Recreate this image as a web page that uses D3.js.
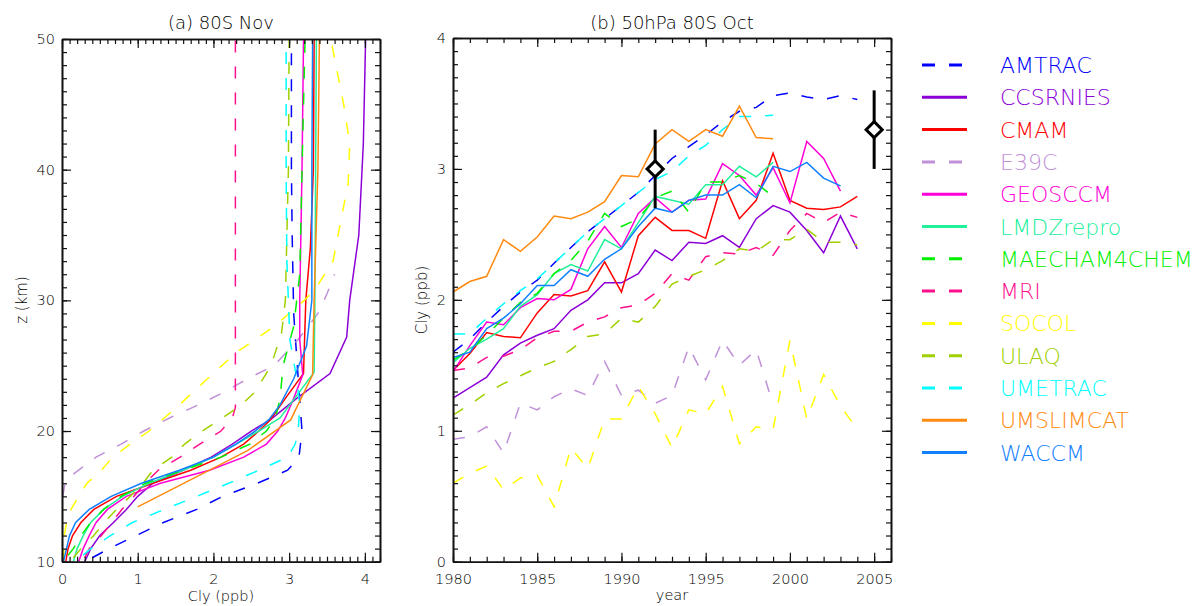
<!DOCTYPE html>
<html>
<head>
<meta charset="utf-8">
<script src="https://cdn.jsdelivr.net/npm/d3@7"></script>
<style>
  body { margin: 0; background: #fff; }
  svg { display: block; font-family: "DejaVu Sans", sans-serif; font-weight: 200; }
  .tick text { font-size: 14.5px; fill: #000; font-family: "DejaVu Sans", sans-serif; font-weight: 200; }
  .axis path, .axis line { stroke: #111; }
</style>
</head>
<body>
<div class="chart"></div>
<script>
const svgWidth = 1203
const svgHeight = 606

// ========================= DATA =========================
const models = ["AMTRAC", "CCSRNIES", "CMAM", "E39C", "GEOSCCM", "LMDZrepro", "MAECHAM4CHEM",
  "MRI", "SOCOL", "ULAQ", "UMETRAC", "UMSLIMCAT", "WACCM"]
const colors = ["#0000ff", "#8c00d8", "#ff0000", "#c090d8", "#ff00d8", "#20f09a", "#00f000",
  "#ff0f8c", "#ffff00", "#a0d000", "#00ffff", "#ff8a10", "#1080ff"]
const dashed = [true, false, false, true, false, false, true, true, true, true, true, false, false]

// (a) 80S Nov profiles: altitude (km) and Cly (ppb)
const amtracZ = [10.3, 11, 12, 13, 14, 15, 16, 17, 18, 20, 24, 29, 35, 40, 50]
const amtracNov = [0.4, 0.62, 0.98, 1.34, 1.78, 2.12, 2.58, 2.98, 3.13, 3.17, 3.12, 3.06, 3.04, 3.03, 3.03]
const ccsrniesZ = [10, 11, 12, 13, 14, 15, 16, 17, 18, 19, 20, 20.85, 22.5, 24.4, 27.2, 30, 35, 42, 50]
const ccsrniesNov = [0.3, 0.38, 0.5, 0.68, 0.85, 1.0, 1.2, 1.6, 1.97, 2.25, 2.5, 2.75, 3.1, 3.54, 3.76, 3.8, 3.92, 3.98, 4.01]
const cmamZ = [10, 11, 12, 13, 14, 15, 16, 17, 18, 19, 20, 20.85, 22.5, 24.4, 30, 34, 40, 50]
const cmamNov = [0.05, 0.08, 0.14, 0.25, 0.42, 0.72, 1.2, 1.7, 2.1, 2.4, 2.6, 2.75, 2.95, 3.19, 3.22, 3.28, 3.32, 3.33]
const e39cZ = [13, 14, 15, 16, 16.5, 17, 18, 19, 20, 21, 22, 23, 24, 25, 27, 29, 30.5, 32]
const e39cNov = [0, 0, 0.01, 0.04, 0.1, 0.22, 0.45, 0.78, 1.08, 1.42, 1.8, 2.15, 2.45, 2.8, 3.12, 3.38, 3.5, 3.6]
const geosccmZ = [10, 11, 12, 13, 14, 15, 16, 17, 18, 19, 20, 21, 22.5, 24.3, 27, 30, 40, 50]
const geosccmNov = [0.22, 0.28, 0.36, 0.45, 0.6, 0.85, 1.3, 1.95, 2.4, 2.7, 2.85, 2.95, 3.06, 3.18, 3.14, 3.14, 3.17, 3.19]
const lmdzZ = [10, 11, 12, 13, 14, 15, 16, 17, 18, 19, 20, 21, 22.4, 24.5, 30, 40, 50]
const lmdzNov = [0.15, 0.2, 0.28, 0.38, 0.55, 0.8, 1.15, 1.6, 2.0, 2.3, 2.6, 2.88, 3.06, 3.33, 3.34, 3.35, 3.36]
const maechamZ = [10.5, 11, 12, 13, 14, 15, 16, 17, 18, 19, 20, 21, 22.5, 25, 28, 32, 40, 50]
const maechamNov = [0.08, 0.15, 0.25, 0.38, 0.55, 0.78, 1.1, 1.6, 2.1, 2.48, 2.7, 2.82, 2.88, 2.92, 3.06, 3.14, 3.17, 3.21]
const mriZ = [10.3, 11, 12, 13, 14, 15, 16, 17, 18, 19, 20, 21, 21.8, 50]
const mriNov = [0.3, 0.36, 0.52, 0.66, 0.79, 0.95, 1.1, 1.27, 1.56, 1.82, 2.1, 2.25, 2.29, 2.29]
const socolZ = [10, 12, 13, 14, 15, 16, 17, 18, 19, 20, 21, 22, 24, 26, 28, 30, 31, 33, 36, 39, 42, 45, 50]
const socolNov = [0.02, 0.03, 0.06, 0.12, 0.22, 0.33, 0.52, 0.67, 0.9, 1.15, 1.35, 1.55, 1.92, 2.3, 2.8, 3.2, 3.36, 3.58, 3.68, 3.78, 3.8, 3.72, 3.55]
const ulaqZ = [10.3, 11, 12, 13, 14, 15, 16, 17, 18, 19, 20, 21, 22, 23, 25, 27.5, 30, 40, 50]
const ulaqNov = [0.15, 0.25, 0.42, 0.56, 0.72, 0.9, 1.07, 1.2, 1.45, 1.62, 1.85, 2.12, 2.37, 2.55, 2.76, 2.9, 2.95, 2.99, 3.0]
const umetracZ = [10.5, 11, 12, 13, 14, 15, 16, 17, 18, 19, 20, 22, 24, 27, 33, 40, 50]
const umetracNov = [0.28, 0.38, 0.64, 0.93, 1.35, 1.78, 2.2, 2.6, 2.98, 3.08, 3.12, 3.14, 3.1, 3.01, 2.97, 2.96, 2.96]
const umslimcatZ = [14.2, 18.5, 20.85, 24.3, 30, 40, 50]
const umslimcatNov = [1.0, 2.45, 3.02, 3.31, 3.33, 3.38, 3.4]
const waccmZ = [10, 11, 12, 13, 14, 15, 16, 17, 18, 19, 20, 20.85, 22, 24, 26.5, 30, 40, 50]
const waccmNov = [0.02, 0.06, 0.1, 0.18, 0.36, 0.65, 1.05, 1.55, 2.0, 2.3, 2.55, 2.73, 2.88, 3.06, 3.23, 3.3, 3.3, 3.31]

// (b) 50hPa 80S Oct Cly (ppb), every series starts in 1980
const years = [1980, 1981, 1982, 1983, 1984, 1985, 1986, 1987, 1988, 1989, 1990, 1991, 1992,
  1993, 1994, 1995, 1996, 1997, 1998, 1999, 2000, 2001, 2002, 2003, 2004, 2005]
const amtracOct = [1.60, 1.70, 1.83, 1.95, 2.06, 2.15, 2.28, 2.40, 2.52, 2.62, 2.72, 2.82, 2.95, 3.08, 3.17, 3.26, 3.36, 3.44, 3.47, 3.56, 3.58, 3.55, 3.53, 3.56, 3.53]
const ccsrniesOct = [1.25, 1.33, 1.41, 1.58, 1.67, 1.73, 1.78, 1.92, 2.0, 2.13, 2.13, 2.20, 2.38, 2.30, 2.44, 2.43, 2.49, 2.40, 2.62, 2.72, 2.67, 2.53, 2.36, 2.64, 2.39]
const cmamOct = [1.46, 1.59, 1.75, 1.72, 1.71, 1.90, 2.04, 2.03, 2.07, 2.29, 2.06, 2.49, 2.63, 2.53, 2.53, 2.47, 2.91, 2.62, 2.76, 3.12, 2.76, 2.70, 2.69, 2.71, 2.79]
const e39cOct = [0.935, 0.955, 1.03, 0.83, 1.21, 1.16, 1.26, 1.32, 1.27, 1.53, 1.27, 1.31, 1.21, 1.27, 1.64, 1.39, 1.69, 1.50, 1.62, 1.20]
const geosccmOct = [1.45, 1.65, 1.83, 1.81, 1.94, 2.01, 2.00, 2.08, 2.39, 2.56, 2.40, 2.66, 2.78, 2.67, 2.76, 2.77, 3.04, 2.95, 2.80, 3.01, 2.74, 3.21, 3.08, 2.83]
const lmdzOct = [1.52, 1.63, 1.70, 1.78, 1.95, 2.04, 2.20, 2.27, 2.22, 2.46, 2.39, 2.59, 2.79, 2.76, 2.73, 2.88, 2.88, 3.02, 2.94, 3.05]
const maechamOct = [1.54, 1.62, 1.73, 1.86, 1.98, 2.05, 2.20, 2.30, 2.45, 2.66, 2.56, 2.62, 2.78, 2.83, 2.67, 2.90, 2.90, 2.95, 2.89, 2.79]
const mriOct = [1.46, 1.48, 1.56, 1.57, 1.62, 1.71, 1.76, 1.76, 1.83, 1.87, 1.94, 1.96, 2.05, 2.20, 2.15, 2.33, 2.36, 2.35, 2.40, 2.34, 2.53, 2.66, 2.59, 2.67, 2.63]
const socolOct = [0.60, 0.675, 0.73, 0.55, 0.64, 0.66, 0.42, 0.87, 0.71, 1.09, 1.09, 1.34, 1.13, 0.87, 1.16, 1.13, 1.34, 0.90, 1.03, 1.01, 1.69, 1.09, 1.43, 1.19, 1.01]
const ulaqOct = [1.12, 1.20, 1.29, 1.36, 1.42, 1.48, 1.53, 1.62, 1.72, 1.74, 1.86, 1.83, 1.95, 2.12, 2.18, 2.23, 2.30, 2.39, 2.37, 2.46, 2.46, 2.54, 2.44, 2.44, 2.42]
const umetracOct = [1.74, 1.74, 1.86, 1.97, 2.07, 2.16, 2.28, 2.40, 2.52, 2.62, 2.72, 2.82, 2.92, 2.98, 3.10, 3.18, 3.30, 3.40, 3.40, 3.41]
const umslimcatOct = [2.06, 2.14, 2.18, 2.46, 2.37, 2.48, 2.64, 2.62, 2.67, 2.75, 2.95, 2.94, 3.19, 3.30, 3.21, 3.30, 3.25, 3.48, 3.24, 3.23]
const waccmOct = [1.56, 1.60, 1.78, 1.86, 1.97, 2.11, 2.11, 2.23, 2.18, 2.31, 2.39, 2.56, 2.70, 2.67, 2.76, 2.80, 2.80, 2.88, 2.78, 3.02, 2.98, 3.05, 2.93, 2.87]

// observations with error bars
const obsYears = [1992, 2005]
const obsCly = [3.0, 3.3]
const obsLow = [2.7, 3.0]
const obsHigh = [3.3, 3.6]

// tick labels
const clyTicksA = [0, 1, 2, 3, 4]
const zTicks = [10, 20, 30, 40, 50]
const yearTicks = [1980, 1985, 1990, 1995, 2000, 2005]
const clyTicksB = [0, 1, 2, 3, 4]

const profZ = [amtracZ, ccsrniesZ, cmamZ, e39cZ, geosccmZ, lmdzZ, maechamZ, mriZ, socolZ, ulaqZ, umetracZ, umslimcatZ, waccmZ]
const profCly = [amtracNov, ccsrniesNov, cmamNov, e39cNov, geosccmNov, lmdzNov, maechamNov, mriNov, socolNov, ulaqNov, umetracNov, umslimcatNov, waccmNov]
const octCly = [amtracOct, ccsrniesOct, cmamOct, e39cOct, geosccmOct, lmdzOct, maechamOct, mriOct, socolOct, ulaqOct, umetracOct, umslimcatOct, waccmOct]

// ========================= SETUP =========================
let svg = d3.select(".chart")
  .append("svg")
  .attr("width", svgWidth)
  .attr("height", svgHeight)

// panel boxes in page pixels
let boxA = { left: 62, right: 380, top: 39, bottom: 561.7 }
let boxB = { left: 453, right: 891, top: 38, bottom: 561.7 }

let xA = d3.scaleLinear().domain([0, 4.2]).range([boxA.left, boxA.right])
let yA = d3.scaleLinear().domain([10, 50]).range([boxA.bottom, boxA.top])
let xB = d3.scaleLinear().domain([1980, 2006]).range([boxB.left, boxB.right])
let yB = d3.scaleLinear().domain([0, 4]).range([boxB.bottom, boxB.top])

const dashPattern = "12,14"

// draws a framed box with inward ticks on all four sides
function drawFrame(box, x, y, xMajor, xMinor, yMajor, yMinor) {
  let g = svg.append("g").attr("class", "axis")
  let major = 9
  let minor = 5

  g.append("g").attr("transform", `translate(0, ${box.bottom})`)
    .call(d3.axisBottom(x).tickValues(xMinor).tickSize(-minor).tickSizeOuter(0).tickFormat(""))
  g.append("g").attr("transform", `translate(0, ${box.bottom})`)
    .call(d3.axisBottom(x).tickValues(xMajor).tickSize(-major).tickSizeOuter(0).tickPadding(12).tickFormat(d3.format("d")))
  g.append("g").attr("transform", `translate(0, ${box.top})`)
    .call(d3.axisTop(x).tickValues(xMinor).tickSize(-minor).tickSizeOuter(0).tickFormat(""))
  g.append("g").attr("transform", `translate(0, ${box.top})`)
    .call(d3.axisTop(x).tickValues(xMajor).tickSize(-major).tickSizeOuter(0).tickFormat(""))

  g.append("g").attr("transform", `translate(${box.left}, 0)`)
    .call(d3.axisLeft(y).tickValues(yMinor).tickSize(-minor).tickSizeOuter(0).tickFormat(""))
  g.append("g").attr("transform", `translate(${box.left}, 0)`)
    .call(d3.axisLeft(y).tickValues(yMajor).tickSize(-major).tickSizeOuter(0).tickPadding(7).tickFormat(d3.format("d")))
  g.append("g").attr("transform", `translate(${box.right}, 0)`)
    .call(d3.axisRight(y).tickValues(yMinor).tickSize(-minor).tickSizeOuter(0).tickFormat(""))
  g.append("g").attr("transform", `translate(${box.right}, 0)`)
    .call(d3.axisRight(y).tickValues(yMajor).tickSize(-major).tickSizeOuter(0).tickFormat(""))

  g.selectAll("path.domain").attr("stroke-width", 1.6)
  g.selectAll(".tick line").attr("stroke-width", 1.2)
}

function clipFor(id, box) {
  svg.append("clipPath").attr("id", id)
    .append("rect")
    .attr("x", box.left).attr("y", box.top)
    .attr("width", box.right - box.left).attr("height", box.bottom - box.top)
}
clipFor("clipA", boxA)
clipFor("clipB", boxB)

// ========================= PANEL (a) =========================
let lineA = d3.line().x(d => xA(d[1])).y(d => yA(d[0]))
let gA = svg.append("g").attr("clip-path", "url(#clipA)")
models.forEach((m, i) => {
  gA.append("path")
    .datum(profZ[i].map((z, k) => [z, profCly[i][k]]))
    .attr("d", lineA)
    .attr("fill", "none")
    .attr("stroke", colors[i])
    .attr("stroke-width", 1.5)
    .attr("stroke-dasharray", dashed[i] ? dashPattern : null)
})

drawFrame(boxA, xA, yA, clyTicksA, d3.range(0, 4.21, 0.1), zTicks, d3.range(10, 50.1, 1))

// ========================= PANEL (b) =========================
let lineB = d3.line().x(d => xB(d[0])).y(d => yB(d[1]))
let gB = svg.append("g").attr("clip-path", "url(#clipB)")
models.forEach((m, i) => {
  gB.append("path")
    .datum(octCly[i].map((v, k) => [years[k], v]))
    .attr("d", lineB)
    .attr("fill", "none")
    .attr("stroke", colors[i])
    .attr("stroke-width", 1.5)
    .attr("stroke-dasharray", dashed[i] ? dashPattern : null)
})

// observations
let obs = svg.append("g")
obsYears.forEach((yr, i) => {
  obs.append("line")
    .attr("x1", xB(yr)).attr("x2", xB(yr))
    .attr("y1", yB(obsLow[i])).attr("y2", yB(obsHigh[i]))
    .attr("stroke", "#000").attr("stroke-width", 3)
  obs.append("path")
    .attr("d", d3.symbol().type(d3.symbolSquare).size(130)())
    .attr("transform", `translate(${xB(yr)}, ${yB(obsCly[i])}) rotate(45)`)
    .attr("fill", "#fff").attr("stroke", "#000").attr("stroke-width", 3)
})

drawFrame(boxB, xB, yB, yearTicks, years.concat([2006]), clyTicksB, d3.range(0, 4.01, 0.1))

// ========================= TEXT =========================
svg.append("text").attr("x", 221).attr("y", 29).attr("text-anchor", "middle")
  .attr("font-size", 18).text("(a) 80S Nov")
svg.append("text").attr("x", 672).attr("y", 29).attr("text-anchor", "middle")
  .attr("font-size", 18).text("(b) 50hPa 80S Oct")
svg.append("text").attr("x", 221).attr("y", 601).attr("text-anchor", "middle")
  .attr("font-size", 14.5).text("Cly (ppb)")
svg.append("text").attr("x", 672).attr("y", 600).attr("text-anchor", "middle")
  .attr("font-size", 14.5).text("year")
svg.append("text").attr("transform", "translate(27, 300) rotate(-90)").attr("text-anchor", "middle")
  .attr("font-size", 15).text("z (km)")
svg.append("text").attr("transform", "translate(427, 300) rotate(-90)").attr("text-anchor", "middle")
  .attr("font-size", 15).text("Cly (ppb)")

// ========================= LEGEND =========================
let legend = svg.append("g")
models.forEach((m, i) => {
  let ly = 65 + i * 32.3
  legend.append("line")
    .attr("x1", 922).attr("x2", 967).attr("y1", ly).attr("y2", ly)
    .attr("stroke", colors[i]).attr("stroke-width", 3)
    .attr("stroke-dasharray", dashed[i] ? "13,14" : null)
  legend.append("text")
    .attr("x", 1000).attr("y", ly + 8)
    .attr("font-size", 22)
    .attr("fill", colors[i])
    .text(m)
})
</script>
</body>
</html>
